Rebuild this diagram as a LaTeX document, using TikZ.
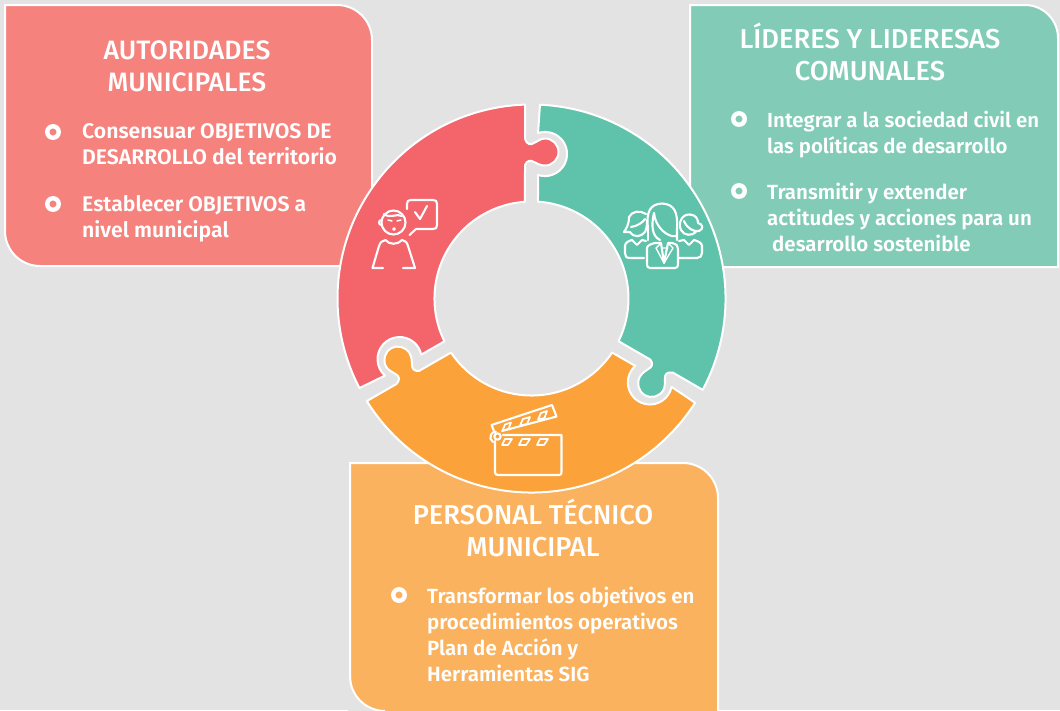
\documentclass[tikz,border=0pt]{standalone}
\usepackage{fontspec}
\newfontfamily\titlefont{Fira Sans Medium}
\newfontfamily\bodyfont{Fira Sans SemiBold}
\definecolor{bgc}{HTML}{E3E3E3}
\definecolor{redbox}{HTML}{F5827D}
\definecolor{greenbox}{HTML}{82CCB7}
\definecolor{orangebox}{HTML}{FBB25E}
\definecolor{redseg}{HTML}{F3646B}
\definecolor{greenseg}{HTML}{5FC3AB}
\definecolor{orangeseg}{HTML}{FBA23A}
\tikzset{
  card/.style={draw=white,line width=2pt},
  seg/.style={draw=white,line width=2pt,line join=round},
  icon/.style={draw=white,line width=2.1pt,line cap=round,line join=round},
  title/.style={text=white,align=center,inner sep=0pt,anchor=north,font=\titlefont\fontsize{#1}{32}\selectfont},
  title/.default=26.6,
  body/.style={text=white,align=left,inner sep=0pt,anchor=north west,font=\bodyfont\fontsize{#1}{26}\selectfont},
  body/.default=20.5,
  bullet/.style={circle,draw=white,line width=4.4pt,minimum size=11.5pt,inner sep=0pt},
}
\begin{document}
\begin{tikzpicture}[x=1pt,y=1pt,yscale=-1]
\useasboundingbox (0,0) rectangle (1060,710);
\clip (0,0) rectangle (1060,710);
\fill[bgc] (0,0) rectangle (1060,710);
% cards
\draw[card,fill=redbox] (5,5) -- (337,5) arc[start angle=-90,end angle=0,radius=35] -- (372,266) -- (40,266) arc[start angle=90,end angle=180,radius=35] -- cycle;
\draw[card,fill=greenbox] (690,5) -- (1025,5) arc[start angle=-90,end angle=0,radius=33] -- (1058,267) -- (690,267) -- cycle;
\draw[card,fill=orangebox] (350,463) -- (683,463) arc[start angle=-90,end angle=0,radius=35] -- (718,716) -- (350,716) -- cycle;
\fill[bgc] (348,676) -- (348,712) -- (385,712) -- (385,711) arc[start angle=90,end angle=180,radius=35] -- cycle;
\draw[card] (385,711) arc[start angle=90,end angle=180,radius=35];
% ring segments (same piece turned three times)
\foreach \k/\c in {0/redseg,1/greenseg,2/orangeseg}{
\begin{scope}[rotate around={120*\k:(531.5,298.5)}]
\draw[seg,fill=\c] (525,104.6) arc[start angle=268.08,end angle=152.5,radius=194]
  -- (384.9,375.6) arc[start angle=131.7,end angle=348.3,radius=22.1]
  -- (444.4,341.3) arc[start angle=153.84,end angle=266.16,radius=97]
  -- (525,165) .. controls (527,160) and (531,160) .. (534,162)
  .. controls (538,164) and (541,165.5) .. (545,165.5)
  arc[start angle=90,end angle=-90,radius=13.5]
  .. controls (541,138.5) and (538,141) .. (534,143)
  .. controls (531,145) and (527,145) .. (525,139) -- cycle;
\end{scope}}
% person icon
\draw[icon] (393.5,222.5) circle[radius=12];
\draw[icon] (381.5,220) arc[start angle=270,end angle=90,radius=2.5];
\draw[icon] (384,214) .. controls (390,219) and (397,213) .. (402,216);
\draw[icon,line width=1.5pt] (388,220) -- (392,221) (397,221) -- (401,220) (394,229) circle[radius=1.2];
\draw[icon] (383,268) -- (372.5,268) -- (379,246) .. controls (380,242) and (383,240.5) .. (385.5,240) .. controls (389,245) and (398,245) .. (402,240) .. controls (405,240.5) and (407,242) .. (408,246) -- (415,268) -- (403,268);
\draw[icon] (407,209) -- (407,204) .. controls (407,201) and (408,200) .. (411,200) -- (433,200) .. controls (436,200) and (437,201) .. (437,204) -- (437,225) .. controls (437,228) and (436,229) .. (433,229) -- (416,229) -- (409.5,235);
\draw[icon] (415,212) -- (420,219) -- (427,206);
% group icon: centre figure
\draw[icon] (648,228) .. controls (646,212) and (650,204) .. (662,203.5) .. controls (674,204) and (678,212) .. (677,228) -- (677,240);
\draw[icon] (648,228) -- (648,240);
\draw[icon] (654,213) .. controls (655,227) and (668,238) .. (676,236);
\draw[icon] (654,213) .. controls (651,226) and (652,236) .. (660,240);
\draw[icon] (647,263) -- (647,248) .. controls (647,246) and (650,244) .. (655,243) -- (661,243) -- (664,263) -- (668,243) -- (672,243) .. controls (677,244) and (678,246) .. (678,249) -- (678,263) .. controls (678,267) and (677,268) .. (675,268) -- (650,268) .. controls (648,268) and (647,267) .. (647,263) -- cycle;
\draw[icon,line width=1.4pt] (661,243) -- (656,248) -- (664,263) (668,243) -- (673,248) -- (664,263) (662,248) -- (668,248);
% group icon: left figure
\draw[icon] (629,217) .. controls (632,211) and (640,210) .. (646,214);
\draw[icon] (629,217) .. controls (629,225) and (626,229) .. (624,232) -- (630,232);
\draw[icon] (630,232) .. controls (634,238) and (641,237) .. (645,232) .. controls (647,228) and (647,224) .. (647,220);
\draw[icon] (631,227) .. controls (638,226) and (643,222) .. (645,219);
\draw[icon] (644,258) -- (630,258) .. controls (626,258) and (625,256) .. (625,253) -- (625,246) .. controls (625,243) and (628,241) .. (632,240) -- (637,245) -- (642,240) -- (646,241);
% group icon: right figure
\draw[icon] (690,214.5) .. controls (681,214) and (678,224) .. (681,230) .. controls (684,236) and (692,236) .. (696,232);
\draw[icon] (690,214.5) .. controls (696,215) and (698,219) .. (698,223) .. controls (703,224) and (704,229) .. (699,231) .. controls (693,232) and (687,228) .. (684,221);
\draw[icon] (679,258) -- (697,258) .. controls (700,258) and (702,256) .. (702,253) -- (702,246) .. controls (702,243) and (698,241) .. (694,240) -- (689,245) -- (684,240) -- (679,241);
% clapper icon
\draw[icon] (495,441) -- (495,472) .. controls (495,474) and (496,475) .. (498,475) -- (559,475) .. controls (561,475) and (561.5,474) .. (561.5,472) -- (561.5,435) -- (503,435);
\draw[icon] (497.5,436.5) circle[radius=3.2];
\draw[icon] (493,442) arc[start angle=120,end angle=270,radius=5.5];
\draw[icon] (494,431) -- (491.5,425) -- (552,405) -- (556.5,416.5) -- (502,431);
\draw[icon,line width=1.7pt] (505,439) -- (512,439) -- (508,445) -- (502,445) -- cycle
 (522,439) -- (530,439) -- (526,445) -- (519,445) -- cycle
 (540,439) -- (548,439) -- (544,445) -- (537,445) -- cycle;
\draw[icon,line width=1.7pt] (505,424.5) -- (511,422.5) -- (508.5,429) -- (502.5,430.5) -- cycle
 (523,419) -- (530,417) -- (527,424) -- (520,425.5) -- cycle
 (541,413) -- (547,411) -- (544.5,418) -- (538,419.5) -- cycle;
% bullets
\node[bullet] (b1) at (53,132) {};
\node[bullet] (b2) at (53,204) {};
\node[bullet] (b3) at (739,119) {};
\node[bullet] (b4) at (739,191) {};
\node[bullet] (b5) at (399,595) {};
% text
\node[title] (t1) at (187,41) {AUTORIDADES\\MUNICIPALES};
\node[title=27.3] (t2) at (870,22.5) {LÍDERES Y LIDERESAS\\COMUNALES};
\node[title=27.3] (t3) at (533,498.5) {PERSONAL TÉCNICO\\MUNICIPAL};
\node[body=21.2] (x1) at (82,123.5) {Consensuar OBJETIVOS DE\\DESARROLLO del territorio};
\node[body=21.2] (x2) at (82,195.5) {Establecer OBJETIVOS a\\nivel municipal};
\node[body=20.4] (x3) at (767,111) {Integrar a la sociedad civil en\\las políticas de desarrollo};
\node[body] (x4) at (767,183) {Transmitir y extender\\actitudes y acciones para un\\\hspace*{5pt}desarrollo sostenible};
\node[body] (x5) at (427,587) {Transformar los objetivos en\\procedimientos operativos\\Plan de Acción y\\Herramientas SIG};
\end{tikzpicture}
\end{document}
